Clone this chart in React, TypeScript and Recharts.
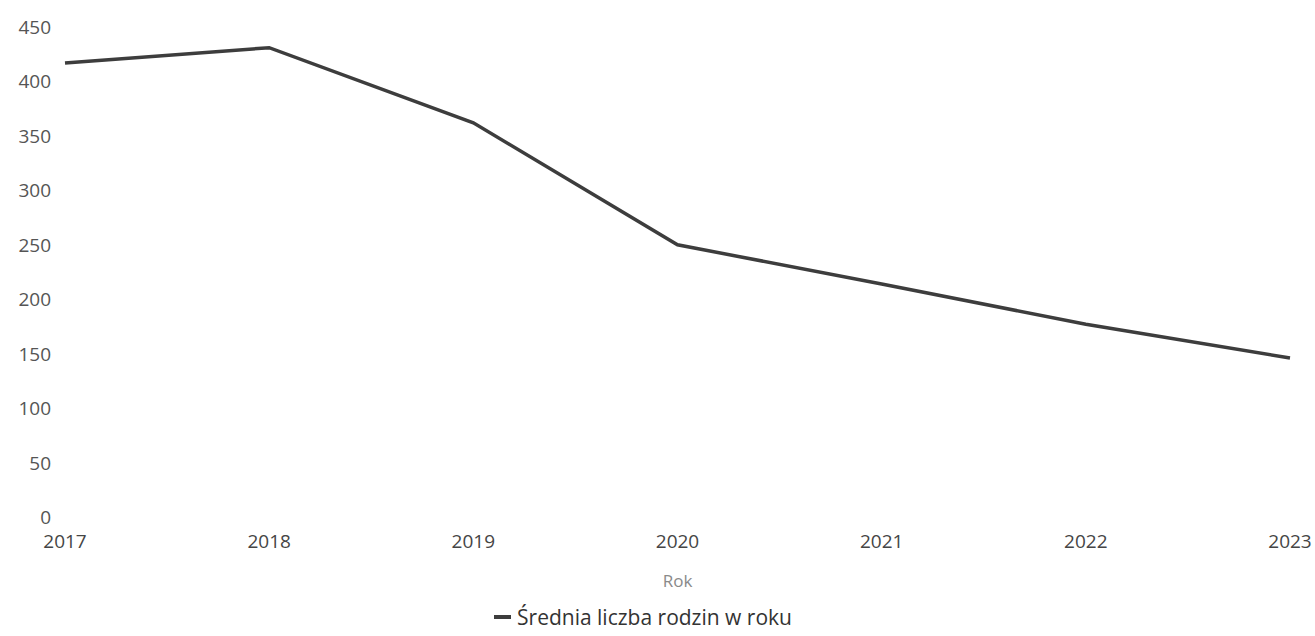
import { LineChart, Line, XAxis, YAxis, Legend } from 'recharts';

const years = ['2017', '2018', '2019', '2020', '2021', '2022', '2023'];
const families = [417, 431, 362, 250, 214, 177, 146];
const yTicks = [0, 50, 100, 150, 200, 250, 300, 350, 400, 450];
const seriesName = 'Średnia liczba rodzin w roku';
const axisTitle = 'Rok';

const FONT = '"Open Sans", "Noto Sans", sans-serif';
const LINE_COLOR = '#3d3d3d';

const data = years.map((year, i) => ({ year, value: families[i] }));

const XTick = ({ x, y, payload }: any) => (
  <text x={x} y={y + 16} textAnchor="middle" dominantBaseline="central" fontFamily={FONT} fontSize={19} fill="#454545">
    {payload.value}
  </text>
);

const YTick = ({ x, y, payload }: any) => (
  <text x={x} y={y} textAnchor="end" dominantBaseline="central" fontFamily={FONT} fontSize={19} fill="#555">
    {payload.value}
  </text>
);

const AxisTitle = ({ viewBox }: any) => (
  <text
    x={viewBox.x + viewBox.width / 2}
    y={viewBox.y + 63}
    textAnchor="middle"
    dominantBaseline="central"
    fontFamily={FONT}
    fontSize={17}
    fill="#8a8a8a"
  >
    {axisTitle}
  </text>
);

const renderLegend = () => (
  <div
    style={{
      display: 'flex',
      justifyContent: 'center',
      alignItems: 'center',
      paddingRight: 4,
      fontFamily: FONT,
      fontSize: 21,
      color: '#333',
      lineHeight: '26px',
    }}
  >
    <span style={{ display: 'inline-block', width: 17, height: 4, background: LINE_COLOR, marginRight: 6 }} />
    <span>{seriesName}</span>
  </div>
);

export default function App() {
  return (
    <div style={{ position: 'absolute', left: 0, top: 0, width: 1315, height: 636, background: '#fff' }}>
      <LineChart width={1315} height={636} data={data} margin={{ top: 27, right: 25, left: 0, bottom: 13 }}>
        <XAxis
          dataKey="year"
          axisLine={false}
          tickLine={false}
          height={80}
          interval={0}
          tick={<XTick />}
          label={<AxisTitle />}
        />
        <YAxis
          domain={[0, 450]}
          ticks={yTicks}
          axisLine={false}
          tickLine={false}
          tickSize={0}
          tickMargin={14}
          width={65}
          interval={0}
          tick={<YTick />}
        />
        <Legend verticalAlign="bottom" content={renderLegend} wrapperStyle={{ bottom: 6 }} />
        <Line
          type="linear"
          dataKey="value"
          name={seriesName}
          stroke={LINE_COLOR}
          strokeWidth={3.5}
          dot={false}
          activeDot={false}
          isAnimationActive={false}
        />
      </LineChart>
    </div>
  );
}
